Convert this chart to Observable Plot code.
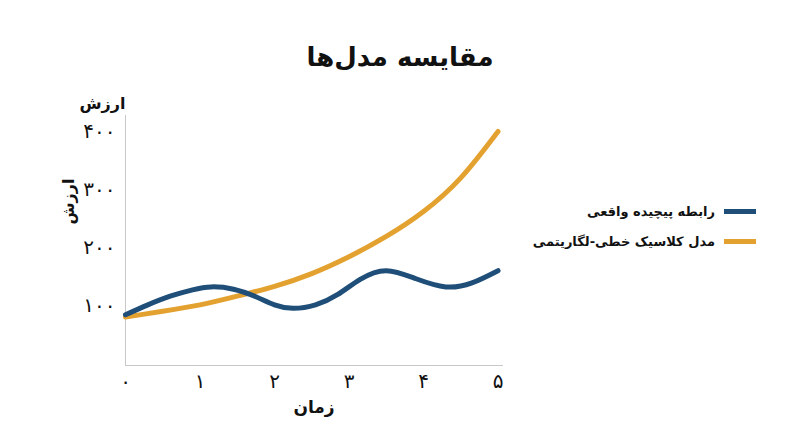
<!DOCTYPE html>
<html>
<head>
<meta charset="utf-8">
<script src="https://cdn.jsdelivr.net/npm/d3@7"></script>
<script src="https://cdn.jsdelivr.net/npm/@observablehq/plot@0.6"></script>
<style>
  body { margin: 0; background: #fff; font-family: "DejaVu Sans", sans-serif; color: #111; }
  #wrap { position: relative; width: 800px; height: 447px; overflow: hidden; background: #fff; }
  #title { position: absolute; top: 40px; left: 0; width: 800px; height: 34px; line-height: 34px;
           text-align: center; font-size: 26px; font-weight: bold; direction: rtl; }
  #chart { position: absolute; top: 80px; left: 0; }
  .leg { position: absolute; right: 44px; height: 20px; display: flex; flex-direction: row-reverse;
         align-items: center; gap: 9px; direction: ltr; }
  .leg .sw { width: 32px; height: 5px; }
  .leg .lab { font-size: 13px; font-weight: bold; direction: rtl; white-space: nowrap; }
</style>
</head>
<body>
<div id="wrap">
  <div id="title">مقایسه مدل‌ها</div>
  <div id="chart"></div>
  <div id="legend"></div>
</div>
<script>
// ---- data ----
const titleText = "مقایسه مدل‌ها";
const yLabel = "ارزش";
const xLabel = "زمان";

const seriesNames = ["رابطه پیچیده واقعی", "مدل کلاسیک خطی-لگاریتمی"];
const seriesColors = ["#1f4e79", "#e3a12f"];

const realX = [0, 0.3, 0.6, 0.9, 1.15, 1.45, 1.75, 2.0, 2.25, 2.55, 2.85, 3.15, 3.5, 3.9, 4.3, 4.65, 5];
const realY = [84, 101, 116, 127, 132, 128, 115, 101, 95, 101, 119, 145, 160, 146, 132, 139, 160];

// classic linear-log model
const classicX = [0, 0.5, 1, 1.5, 2, 2.5, 3, 3.5, 4, 4.5, 5];
const classicY = [80, 90, 101, 116, 133, 155, 184, 219, 262, 320, 400];

const xTicks = [0, 1, 2, 3, 4, 5];
const xTickLabels = ["۰", "۱", "۲", "۳", "۴", "۵"];
const yTicks = [100, 200, 300, 400];
const yTickLabels = ["۱۰۰", "۲۰۰", "۳۰۰", "۴۰۰"];

// ---- tables ----
const realData = realX.map((x, i) => ({x, y: realY[i]}));
const classicData = classicX.map((x, i) => ({x, y: classicY[i]}));

const chart = Plot.plot({
  width: 800,
  height: 367,
  marginLeft: 125,
  marginRight: 298,
  marginTop: 35,
  marginBottom: 82,
  x: {domain: [0, 5.06]},
  y: {domain: [-3.5, 427.5]},
  style: {fontFamily: "DejaVu Sans", fontSize: "16px", color: "#111", background: "#fff"},
  marks: [
    Plot.frame({anchor: "left", stroke: "#c8c8c8", strokeOpacity: 1}),
    Plot.frame({anchor: "bottom", stroke: "#c8c8c8", strokeOpacity: 1}),
    Plot.axisY(yTicks, {tickSize: 0, tickPadding: 10, label: null, fontSize: 20,
      tickFormat: (d) => yTickLabels[yTicks.indexOf(d)]}),
    Plot.axisX(xTicks, {tickSize: 0, tickPadding: 8, label: null, fontSize: 20,
      tickFormat: (d) => xTickLabels[xTicks.indexOf(d)]}),
    Plot.line(classicData, {x: "x", y: "y", stroke: seriesColors[1], strokeWidth: 5, curve: "natural"}),
    Plot.line(realData, {x: "x", y: "y", stroke: seriesColors[0], strokeWidth: 5, curve: "natural"}),
    Plot.text([yLabel], {frameAnchor: "top-left", textAnchor: "end", dy: -18, fontSize: 16, fontWeight: "bold"}),
    Plot.text([yLabel], {frameAnchor: "left", rotate: -90, dx: -57, dy: -16, fontSize: 16, fontWeight: "bold"}),
    Plot.text([xLabel], {frameAnchor: "bottom", dy: 47, fontSize: 17, fontWeight: "bold"})
  ]
});
document.getElementById("chart").appendChild(chart);

// ---- legend ----
const legendTops = [201, 231];
const legend = document.getElementById("legend");
seriesNames.forEach((name, i) => {
  const item = document.createElement("div");
  item.className = "leg";
  item.style.top = legendTops[i] + "px";
  const sw = document.createElement("div");
  sw.className = "sw";
  sw.style.background = seriesColors[i];
  const lab = document.createElement("div");
  lab.className = "lab";
  lab.textContent = name;
  item.appendChild(sw);
  item.appendChild(lab);
  legend.appendChild(item);
});
</script>
</body>
</html>
